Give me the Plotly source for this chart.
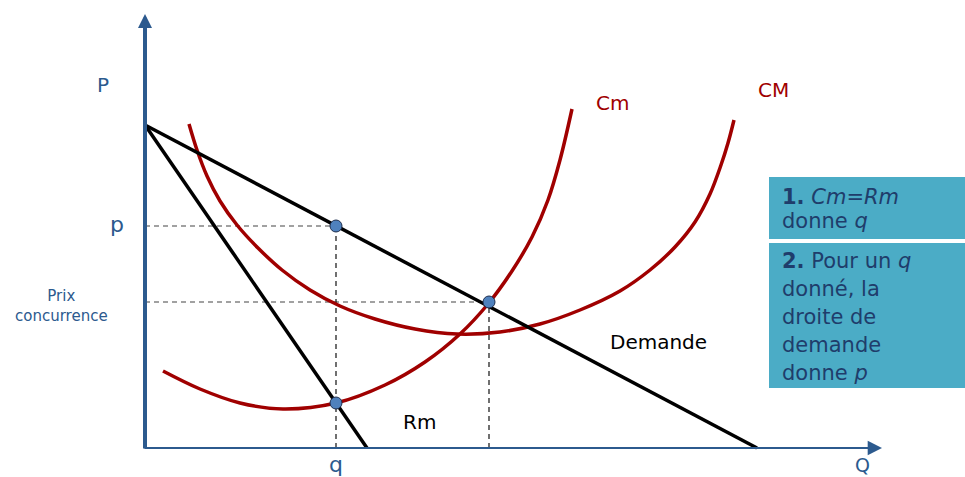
import plotly.graph_objects as go

# ---- data (Q, P) in chart units; origin at the axes corner ----
demand_q = [0, 612]
demand_p = [323, 0]
rm_q = [0, 222]
rm_p = [323, 0]

# marginal cost (Cm)
cm_q = [18, 55, 95, 138, 191, 240, 280, 315, 343, 367, 387, 403, 415, 427]
cm_p = [77, 59, 45, 39, 45, 63, 86, 114, 144, 177, 211, 248, 288, 339]

# average cost (CM)
cmoy_q = [44, 52, 62, 75, 92, 113, 137, 165, 195, 230, 270, 312, 355, 395,
          435, 475, 505, 530, 550, 565, 576, 583, 589]
cmoy_p = [324, 298, 272, 247, 223, 200, 178, 158, 142, 129, 119, 114, 116, 124,
          138, 157, 178, 201, 226, 254, 283, 305, 328]

q_mono = 191
p_mono = 222
cm_at_q = 45
q_conc = 344
p_conc = 146

pts_q = [q_mono, q_conc, q_mono]
pts_p = [p_mono, p_conc, cm_at_q]

axis_p_max = 434
axis_q_max = 737

RED = "#A00000"
BLUE = "#2C5A8E"
BOXC = "#4BACC6"
BOXT = "#1F3D6B"
FONT = "DejaVu Sans"

fig = go.Figure()

# dashed guide lines
def dashed(xs, ys, color="#333333"):
    fig.add_trace(go.Scatter(x=xs, y=ys, mode="lines",
                             line=dict(color=color, width=1.2, dash="5px,4px"),
                             hoverinfo="skip", showlegend=False))

dashed([0, q_mono], [p_mono, p_mono], "#444444")
dashed([0, q_conc], [p_conc, p_conc], "#444444")
dashed([q_mono, q_mono], [0, p_mono], "#111111")
dashed([q_conc, q_conc], [0, p_conc], "#111111")

# cost curves
fig.add_trace(go.Scatter(x=cm_q, y=cm_p, mode="lines",
                         line=dict(color=RED, width=3.5, shape="spline", smoothing=1.0),
                         showlegend=False))
fig.add_trace(go.Scatter(x=cmoy_q, y=cmoy_p, mode="lines",
                         line=dict(color=RED, width=3.5, shape="spline", smoothing=1.0),
                         showlegend=False))

# demand & marginal revenue
fig.add_trace(go.Scatter(x=demand_q, y=demand_p, mode="lines",
                         line=dict(color="black", width=3.5), showlegend=False))
fig.add_trace(go.Scatter(x=rm_q, y=rm_p, mode="lines",
                         line=dict(color="black", width=3.5), showlegend=False))

# axes (arrows)
fig.add_annotation(x=0, y=axis_p_max, ax=0, ay=-2, xref="x", yref="y",
                   axref="x", ayref="y", text="", showarrow=True,
                   arrowhead=2, arrowsize=0.7, arrowwidth=4, arrowcolor=BLUE)
fig.add_annotation(x=axis_q_max, y=0, ax=-2, ay=0, xref="x", yref="y",
                   axref="x", ayref="y", text="", showarrow=True,
                   arrowhead=2, arrowsize=1.3, arrowwidth=2.2, arrowcolor=BLUE)

# points
fig.add_trace(go.Scatter(x=pts_q, y=pts_p, mode="markers",
                         marker=dict(size=12, color="#4F81BD",
                                     line=dict(color="#1F2F4F", width=1)),
                         showlegend=False))

def label(x, y, text, color, size, xanchor="center", yanchor="middle"):
    fig.add_annotation(x=x, y=y, xref="x", yref="y", text=text, showarrow=False,
                       font=dict(family=FONT, size=size, color=color),
                       xanchor=xanchor, yanchor=yanchor, align="center")

label(-42, 363, "P", BLUE, 20)
label(-28, 224, "p", BLUE, 22)
label(-84, 142, "Prix<br>concurrence", BLUE, 15)
label(q_mono, -16, "q", BLUE, 22)
label(717, -17, "Q", BLUE, 19)
label(467, 345, "Cm", RED, 20)
label(628, 358, "CM", RED, 20)
label(513, 106, "Demande", "black", 20)
label(274, 26, "Rm", "black", 20)

# explanation boxes
fig.add_shape(type="rect", xref="paper", yref="paper",
              x0=769/965, x1=1.0, y0=1-239/477, y1=1-177/477,
              fillcolor=BOXC, line=dict(width=0), layer="above")
fig.add_shape(type="rect", xref="paper", yref="paper",
              x0=769/965, x1=1.0, y0=1-388/477, y1=1-243/477,
              fillcolor=BOXC, line=dict(width=0), layer="above")

box_lines = [
    (197, "<b>1.</b> <i>Cm=Rm</i>"),
    (221, "donne <i>q</i>"),
    (261, "<b>2.</b> Pour un <i>q</i>"),
    (289, "donné, la"),
    (317, "droite de"),
    (345, "demande"),
    (373, "donne <i>p</i>"),
]
for ypx, txt in box_lines:
    fig.add_annotation(x=780/965, y=1-ypx/477, xref="paper", yref="paper",
                       text=txt, showarrow=False, xanchor="left", yanchor="middle",
                       font=dict(family=FONT, size=21, color=BOXT))

fig.update_layout(
    width=965, height=477,
    margin=dict(l=0, r=0, t=0, b=0),
    paper_bgcolor="white", plot_bgcolor="white",
    xaxis=dict(range=[-145, 820], visible=False, fixedrange=True),
    yaxis=dict(range=[-29, 448], visible=False, fixedrange=True),
    hovermode=False,
    showlegend=False,
)

fig.write_html("out.html",
               config={"displayModeBar": False},
               post_script="document.body.style.margin='0';document.body.style.overflow='hidden';")
